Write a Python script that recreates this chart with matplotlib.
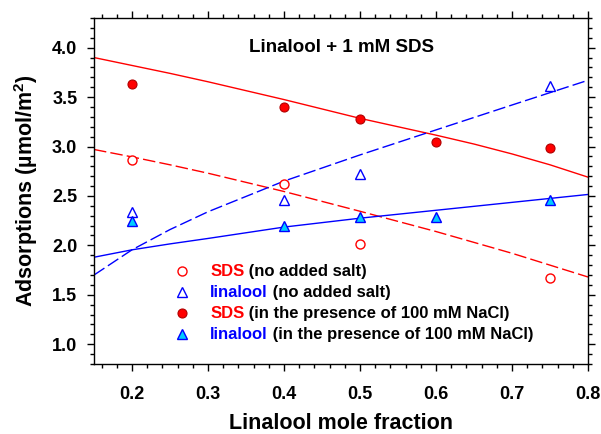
import numpy as np
import matplotlib
matplotlib.use("Agg")
import matplotlib.pyplot as plt
from matplotlib.ticker import MultipleLocator

plt.rcParams["font.family"] = ["Liberation Sans", "DejaVu Sans"]
plt.rcParams["font.weight"] = "bold"
plt.rcParams["mathtext.fontset"] = "custom"
plt.rcParams["mathtext.rm"] = "Liberation Sans:bold"
plt.rcParams["mathtext.bf"] = "Liberation Sans:bold"
plt.rcParams["mathtext.default"] = "bf"

# measured points
x_sds_ns = [0.2, 0.4, 0.5, 0.75]
y_sds_ns = [2.86, 2.62, 2.01, 1.67]
x_lin_ns = [0.2, 0.4, 0.5, 0.75]
y_lin_ns = [2.34, 2.46, 2.72, 3.61]
x_sds_na = [0.2, 0.4, 0.5, 0.6, 0.75]
y_sds_na = [3.63, 3.40, 3.28, 3.05, 2.99]
x_lin_na = [0.2, 0.4, 0.5, 0.6, 0.75]
y_lin_na = [2.25, 2.20, 2.29, 2.29, 2.46]

# fitted curves
x_fit = [0.15, 0.2, 0.25, 0.3, 0.4, 0.5, 0.6, 0.65, 0.7, 0.75, 0.8]
fit_sds_na = [3.90, 3.82, 3.74, 3.655, 3.475, 3.285, 3.115, 3.025, 2.925, 2.815, 2.69]
fit_sds_ns = [2.97, 2.895, 2.815, 2.73, 2.545, 2.345, 2.14, 2.03, 1.92, 1.80, 1.68]
fit_lin_ns = [1.70, 1.955, 2.16, 2.34, 2.65, 2.915, 3.168, 3.294, 3.42, 3.545, 3.67]
fit_lin_na = [1.88, 1.955, 2.015, 2.07, 2.185, 2.275, 2.355, 2.395, 2.435, 2.475, 2.515]

legend_words = ["SDS", "linalool", "SDS", "linalool"]
legend_rest = [" (no added salt)", " (no added salt)",
               " (in the presence of 100 mM NaCl)",
               " (in the presence of 100 mM NaCl)"]
legend_colors = ["#ff0000", "#0000ff", "#ff0000", "#0000ff"]

RED = "#ff0000"
BLUE = "#0000ff"
CYAN = "#00ccff"
dash = (0, (9, 3))

fig = plt.figure(figsize=(6.01, 4.34), dpi=100)
ax = fig.add_axes([0.1564, 0.1613, 0.822, 0.7972])

ax.plot(x_fit, fit_sds_na, color=RED, lw=1.0)
ax.plot(x_fit, fit_sds_ns, color=RED, lw=1.0, linestyle=dash)
ax.plot(x_fit, fit_lin_ns, color=BLUE, lw=1.0, linestyle=dash)
ax.plot(x_fit, fit_lin_na, color=BLUE, lw=1.0)

h1, = ax.plot(x_sds_ns, y_sds_ns, "o", mfc="white", mec=RED, mew=1.0, ms=6.5, zorder=5)
h2, = ax.plot(x_lin_ns, y_lin_ns, "^", mfc="white", mec=BLUE, mew=1.0, ms=6.5, zorder=5)
h3, = ax.plot(x_sds_na, y_sds_na, "o", mfc=RED, mec="#b00000", mew=0.8, ms=6.5, zorder=5)
h4, = ax.plot(x_lin_na, y_lin_na, "^", mfc=CYAN, mec=BLUE, mew=1.0, ms=6.5, zorder=5)

ax.set_xlim(0.15, 0.8)
ax.set_ylim(0.8, 4.3)
ax.xaxis.set_minor_locator(MultipleLocator(0.02))
ax.yaxis.set_minor_locator(MultipleLocator(0.1))
ax.set_xticks([0.2, 0.3, 0.4, 0.5, 0.6, 0.7, 0.8])
ax.set_xticklabels(["0.2", "0.3", "0.4", "0.5", "0.6", "0.7", "0.8"])
ax.set_yticks([1.0, 1.5, 2.0, 2.5, 3.0, 3.5, 4.0])
ax.set_yticklabels(["1.0", "1.5", "2.0", "2.5", "3.0", "3.5", "4.0"])

ax.tick_params(which="both", direction="out", top=True, right=True, width=1.0)
ax.tick_params(which="major", length=5, labelsize=13)
ax.tick_params(which="minor", length=3)
ax.tick_params(axis="x", which="major", pad=11)
ax.tick_params(axis="y", which="major", pad=7)
for s in ax.spines.values():
    s.set_linewidth(1.0)

ax.set_xlabel("Linalool mole fraction", fontsize=15.5, fontweight="bold", labelpad=7)
ax.set_ylabel("Adsorptions (\u00b5mol/m$^{2}$)", fontsize=15.5, fontweight="bold", labelpad=9)

ax.text(0.5, 0.914, "Linalool + 1 mM SDS", transform=ax.transAxes, ha="center",
        va="center", fontsize=13.5, fontweight="bold")

leg = ax.legend([h1, h2, h3, h4], legend_words, loc="upper left",
                bbox_to_anchor=(0.161, 0.288), frameon=False, borderpad=0,
                borderaxespad=0, handlelength=1.0, handletextpad=1.2,
                labelspacing=0.36, prop={"weight": "bold", "size": 12})
for txt, c, rest in zip(leg.get_texts(), legend_colors, legend_rest):
    txt.set_color(c)
    ax.annotate(rest, xy=(1, 0), xycoords=txt, va="bottom", ha="left",
                fontsize=12, fontweight="bold", color="black", zorder=10)

fig.savefig("out.png", dpi=100)
